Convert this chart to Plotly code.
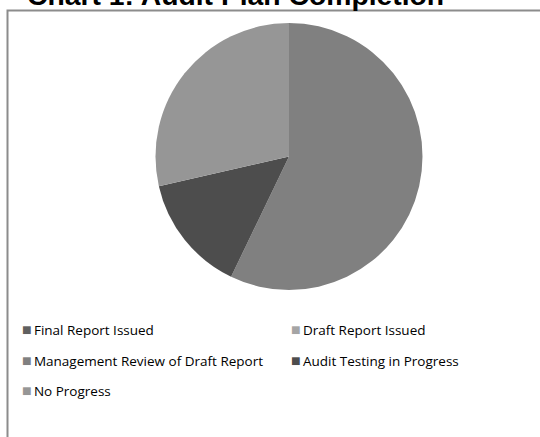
import plotly.graph_objects as go

labels = ["Final Report Issued", "Draft Report Issued",
          "Management Review of Draft Report", "Audit Testing in Progress",
          "No Progress"]
values = [0, 0, 4, 1, 2]
colors = ["#606060", "#a5a5a5", "#808080", "#4d4d4d", "#969696"]
title_text = "Chart 1: Audit Plan Completion"

W, H = 540, 437

fig = go.Figure()
fig.add_trace(go.Pie(
    labels=labels, values=values, sort=False, direction="clockwise",
    rotation=0, marker=dict(colors=colors, line=dict(width=0)),
    textinfo="none", showlegend=False, hoverinfo="label+value+percent",
    domain=dict(x=[155 / W, 423 / W], y=[1 - 290 / H, 1 - 23 / H]),
))

# frame around chart area (extends past right/bottom edges)
fig.add_shape(type="rect", xref="paper", yref="paper",
              x0=7.5 / W, x1=1.05, y0=-0.05, y1=1 - 10.5 / H,
              line=dict(color="#8c8c8c", width=2), fillcolor="rgba(0,0,0,0)")

fig.add_annotation(text="<b>" + title_text + "</b>", xref="paper", yref="paper",
                   x=25 / W, y=1 - 13 / H, xanchor="left", yanchor="bottom",
                   showarrow=False,
                   font=dict(family="Liberation Sans, Arial", size=28.3, color="#000000"))

# legend (two columns), built from labels/colors
col_x = [20, 289]
row_y = [329, 359.5, 390]
for i, (lab, col) in enumerate(zip(labels, colors)):
    cx = col_x[i % 2]
    cy = row_y[i // 2]
    fig.add_annotation(
        text=f'<span style="color:{col};font-size:16px">■</span>\u2009{lab}',
        xref="paper", yref="paper", x=cx / W, y=1 - cy / H,
        xanchor="left", yanchor="middle", showarrow=False,
        font=dict(family="Open Sans", size=13.5, color="#000000"))

fig.update_layout(width=W, height=H, margin=dict(l=0, r=0, t=0, b=0),
                  paper_bgcolor="white", plot_bgcolor="white",
                  showlegend=False)
fig.write_html("out.html", config={"displayModeBar": False},
               post_script="document.body.style.margin='0';")
